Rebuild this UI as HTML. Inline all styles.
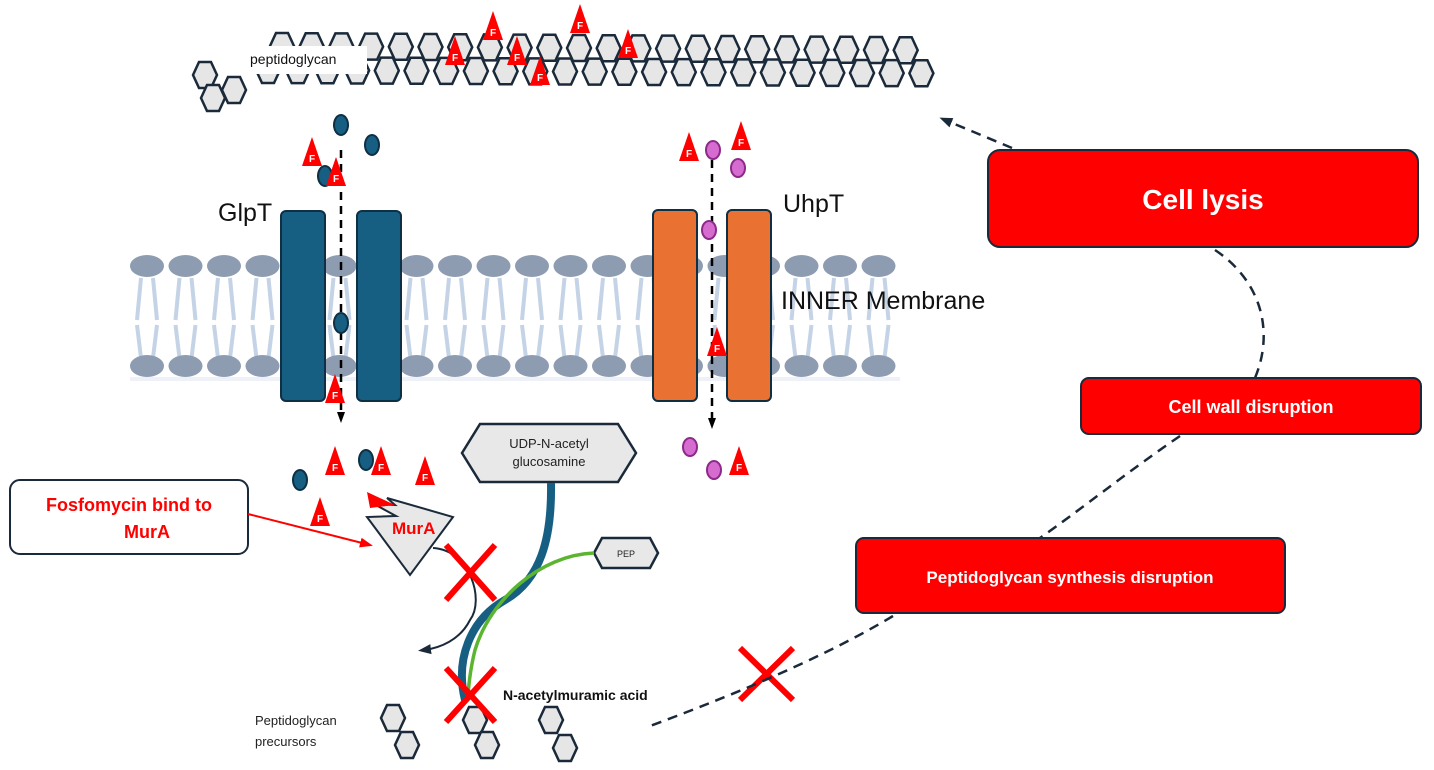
<!DOCTYPE html>
<html><head><meta charset="utf-8"><style>
html,body{margin:0;padding:0;background:#fff;}
svg{display:block;font-family:"Liberation Sans",sans-serif;}
</style></head><body>
<svg id="s" width="1434" height="770" viewBox="0 0 1434 770" xmlns="http://www.w3.org/2000/svg">
<defs>
<marker id="ah" markerUnits="userSpaceOnUse" markerWidth="12" markerHeight="12" refX="6" refY="6" orient="auto"><path d="M0,2 L11,6 L0,10 z" fill="#000"/></marker>
<marker id="ahd" markerUnits="userSpaceOnUse" markerWidth="14" markerHeight="14" refX="7" refY="7" orient="auto"><path d="M0,2 L13,7 L0,12 z" fill="#1a2a3a"/></marker>
<marker id="ahr" markerUnits="userSpaceOnUse" markerWidth="14" markerHeight="14" refX="10" refY="7" orient="auto"><path d="M0,2 L13,7 L0,12 z" fill="#f00"/></marker>
</defs>
<g id="mem"></g>
<g id="hex"></g>
<rect x="245" y="46" width="122" height="28" fill="#fff"/>
<text x="250" y="64" font-size="14" fill="#111">peptidoglycan</text>

<rect x="281" y="211" width="44" height="190" rx="5" fill="#175f82" stroke="#0e2f44" stroke-width="2"/>
<rect x="357" y="211" width="44" height="190" rx="5" fill="#175f82" stroke="#0e2f44" stroke-width="2"/>
<line x1="341" y1="150" x2="341" y2="418" stroke="#000" stroke-width="2.5" stroke-dasharray="8,6" marker-end="url(#ah)"/>
<rect x="653" y="210" width="44" height="191" rx="5" fill="#e97132" stroke="#0e2f44" stroke-width="2"/>
<rect x="727" y="210" width="44" height="191" rx="5" fill="#e97132" stroke="#0e2f44" stroke-width="2"/>
<line x1="712" y1="160" x2="712" y2="424" stroke="#000" stroke-width="2.5" stroke-dasharray="8,6" marker-end="url(#ah)"/>

<text x="218" y="221" font-size="25" fill="#111">GlpT</text>
<text x="783" y="212" font-size="25" fill="#111">UhpT</text>
<text x="781" y="309" font-size="25" fill="#111">INNER Membrane</text>

<g id="dots"></g>

<polygon points="462,453 480,424 618,424 636,453 618,482 480,482" fill="#e8e8e8" stroke="#1a2a3a" stroke-width="2.5"/>
<text x="549" y="448" font-size="13" text-anchor="middle" fill="#222">UDP-N-acetyl</text>
<text x="549" y="466" font-size="13" text-anchor="middle" fill="#222">glucosamine</text>
<polygon points="594,553 602,538 650,538 658,553 650,568 602,568" fill="#e8e8e8" stroke="#1a2a3a" stroke-width="2.5"/>
<text x="626" y="557" font-size="9" text-anchor="middle" fill="#222">PEP</text>
<path d="M551,483 C552,540 540,580 505,600 C470,620 455,660 465,700" fill="none" stroke="#175f82" stroke-width="8"/>
<path d="M594,553 C540,555 490,600 475,650 C470,670 468,690 468,700" fill="none" stroke="#5cb531" stroke-width="3.5"/>
<polygon points="387,498 453,517 410,575 367,517 396,516 374,504 395,505" fill="#e8e8e8" stroke="#1a2a3a" stroke-width="2"/>
<polygon points="367,492 395,505 370,508" fill="#f00"/>
<text x="392" y="534" font-size="17" font-weight="bold" fill="#f00">MurA</text>
<path d="M433,548 C470,550 485,600 470,620 C460,640 440,648 424,650" fill="none" stroke="#1a2a3a" stroke-width="2" marker-end="url(#ahd)"/>

<g stroke="#f00" stroke-width="6">
<line x1="446" y1="545" x2="495" y2="600"/><line x1="495" y1="545" x2="446" y2="600"/>
<line x1="446" y1="668" x2="495" y2="722"/><line x1="495" y1="668" x2="446" y2="722"/>
<line x1="740" y1="648" x2="793" y2="700"/><line x1="793" y1="648" x2="740" y2="700"/>
</g>
<text x="503" y="700" font-size="14" font-weight="bold" fill="#111">N-acetylmuramic acid</text>
<text x="255" y="725" font-size="13" fill="#222">Peptidoglycan</text>
<text x="255" y="746" font-size="13" fill="#222">precursors</text>

<rect x="10" y="480" width="238" height="74" rx="10" fill="#fff" stroke="#1a2a3a" stroke-width="2"/>
<text x="129" y="511" font-size="18" font-weight="bold" fill="#f00" text-anchor="middle">Fosfomycin bind to</text>
<text x="147" y="538" font-size="18" font-weight="bold" fill="#f00" text-anchor="middle">MurA</text>
<line x1="248" y1="514" x2="370" y2="545" stroke="#f00" stroke-width="2" marker-end="url(#ahr)"/>

<rect x="988" y="150" width="430" height="97" rx="12" fill="#f00" stroke="#1a2a3a" stroke-width="2"/>
<text x="1203" y="209" font-size="28" font-weight="bold" fill="#fff" text-anchor="middle">Cell lysis</text>
<rect x="1081" y="378" width="340" height="56" rx="8" fill="#f00" stroke="#1a2a3a" stroke-width="2"/>
<text x="1251" y="413" font-size="18" font-weight="bold" fill="#fff" text-anchor="middle">Cell wall disruption</text>
<rect x="856" y="538" width="429" height="75" rx="8" fill="#f00" stroke="#1a2a3a" stroke-width="2"/>
<text x="1070" y="583" font-size="17" font-weight="bold" fill="#fff" text-anchor="middle">Peptidoglycan synthesis disruption</text>

<g fill="none" stroke="#1a2a3a" stroke-width="2.5" stroke-dasharray="10,7">
<path d="M1012,148 L945,120" marker-end="url(#ahd)"/>
<path d="M1215,250 C1260,280 1275,330 1255,378"/>
<path d="M1180,436 C1130,470 1080,510 1040,538"/>
<path d="M893,616 C820,660 720,700 650,726"/>
</g>
</svg>
<script>
const NS="http://www.w3.org/2000/svg";
function el(p,t,a){const e=document.createElementNS(NS,t);for(const k in a)e.setAttribute(k,a[k]);document.getElementById(p).appendChild(e);return e;}
for(let x=147;x<900;x+=38.5){
 el("mem","path",{d:`M${x-6},278 L${x-10},320 M${x+6},278 L${x+10},320 M${x-10},325 L${x-6},358 M${x+10},325 L${x+6},358`,stroke:"#c5d3e6","stroke-width":4,fill:"none"});
 el("mem","ellipse",{cx:x,cy:266,rx:17,ry:11,fill:"#8e9cb2"});
 el("mem","ellipse",{cx:x,cy:366,rx:17,ry:11,fill:"#8e9cb2"});
}
el("mem","rect",{x:130,y:377,width:770,height:4,fill:"#eef2f8"});
function hex(cx,cy,w,h){const a=w/2,q=w/4;el("hex","polygon",{points:`${cx-a},${cy} ${cx-q},${cy-h/2} ${cx+q},${cy-h/2} ${cx+a},${cy} ${cx+q},${cy+h/2} ${cx-q},${cy+h/2}`,fill:"#e6e6e6",stroke:"#1a2a3a","stroke-width":2.5});}
for(let i=0;i<22;i++){const x=282+i*29.7;hex(x,46+i*0.2,24,26);}
for(let i=0;i<23;i++){const x=268+i*29.7;hex(x,70+i*0.15,24,26);}
hex(205,75,24,26);hex(234,90,24,26);hex(213,98,24,26);
[[393,718],[407,745],[475,720],[487,745],[551,720],[565,748]].forEach(p=>hex(p[0],p[1],24,26));
[[341,125],[372,145],[325,176],[341,323],[300,480],[366,460]].forEach(p=>el("dots","ellipse",{cx:p[0],cy:p[1],rx:7,ry:10,fill:"#175f82",stroke:"#0e2f44","stroke-width":2}));
[[713,150],[738,168],[709,230],[690,447],[714,470]].forEach(p=>el("dots","ellipse",{cx:p[0],cy:p[1],rx:7,ry:9,fill:"#d66bd0",stroke:"#8b2a88","stroke-width":2}));
function F(cx,cy){el("dots","polygon",{points:`${cx},${cy-16} ${cx+10},${cy+13} ${cx-10},${cy+13}`,fill:"#f00"});const t=el("dots","text",{x:cx,y:cy+9,"font-size":10,"font-weight":"bold",fill:"#fff","text-anchor":"middle"});t.textContent="F";}
[[455,52],[493,27],[517,52],[540,72],[580,20],[628,45],[312,153],[336,173],[689,148],[741,137],[717,343],[335,390],[335,462],[381,462],[425,472],[320,513],[739,462],[37,532]].forEach(p=>F(p[0],p[1]));
</script>
</body></html>
